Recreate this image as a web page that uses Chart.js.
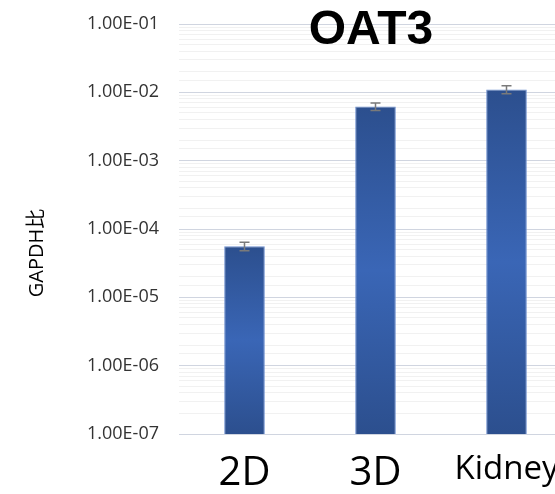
<!DOCTYPE html>
<html>
<head>
<meta charset="utf-8">
<script src="https://cdn.jsdelivr.net/npm/chart.js@4/dist/chart.umd.min.js"></script>
<style>
  html, body { margin: 0; padding: 0; background: #fff; overflow: hidden; }
  #wrap { width: 580px; height: 494px; }
</style>
</head>
<body>
<div id="wrap"><canvas id="oat3Chart" width="580" height="494"></canvas></div>
<script>
// sample groups and relative expression (ratio to GAPDH)
var groups = ['2D', '3D', 'Kidney'];
var expression = [5.6e-5, 6.2e-3, 1.1e-2];
var expressionErr = [0.8e-5, 0.8e-3, 1.5e-3];
var decadeTicks = [1e-7, 1e-6, 1e-5, 1e-4, 1e-3, 1e-2, 1e-1];
var decadeLabels = ['1.00E-07', '1.00E-06', '1.00E-05', '1.00E-04', '1.00E-03', '1.00E-02', '1.00E-01'];

function decadeIndex(v) {
    var e = Math.log10(v);
    if (Math.abs(e - Math.round(e)) > 1e-6) return -1;
    return decadeTicks.indexOf(Math.pow(10, Math.round(e))) >= 0 ?
        Math.round(e) - Math.round(Math.log10(decadeTicks[0])) : -1;
}

// dark at both ends, lighter through the middle of each bar
function barFill(ctx) {
    var chart = ctx.chart;
    var yScale = chart.scales.y;
    if (!chart.chartArea || !yScale || ctx.raw == null) return '#3360aa';
    var top = yScale.getPixelForValue(ctx.raw);
    var bottom = chart.chartArea.bottom;
    if (!isFinite(top) || bottom - top < 2) return '#3360aa';
    var g = chart.ctx.createLinearGradient(0, top, 0, bottom);
    g.addColorStop(0, '#2c4f8e');
    g.addColorStop(0.5, '#3a66b6');
    g.addColorStop(1, '#2c4f8e');
    return g;
}

var errorBars = {
    id: 'errorBars',
    afterDatasetsDraw: function(chart) {
        var ctx = chart.ctx;
        var meta = chart.getDatasetMeta(0);
        var y = chart.scales.y;
        ctx.save();
        ctx.strokeStyle = '#7a7a7a';
        ctx.lineWidth = 1.5;
        meta.data.forEach(function(bar, i) {
            var hi = y.getPixelForValue(expression[i] + expressionErr[i]);
            var lo = y.getPixelForValue(expression[i] - expressionErr[i]);
            ctx.beginPath();
            ctx.moveTo(bar.x, hi);
            ctx.lineTo(bar.x, lo);
            ctx.moveTo(bar.x - 5, hi);
            ctx.lineTo(bar.x + 5, hi);
            ctx.moveTo(bar.x - 5, lo);
            ctx.lineTo(bar.x + 5, lo);
            ctx.stroke();
        });
        ctx.restore();
    }
};

var labelsText = {
    id: 'labelsText',
    afterDraw: function(chart) {
        var ctx = chart.ctx;
        ctx.save();
        ctx.fillStyle = '#000';
        ctx.textAlign = 'center';
        ctx.textBaseline = 'middle';
        ctx.font = 'bold 48px "Liberation Sans", Arial, sans-serif';
        ctx.fillText('OAT3', 371, 31);
        ctx.translate(37, 253);
        ctx.rotate(-Math.PI / 2);
        ctx.font = '20px "Open Sans", "Noto Sans CJK JP", sans-serif';
        ctx.fillText('GAPDH比', 0, 0);
        ctx.restore();
    }
};

new Chart(document.getElementById('oat3Chart'), {
    type: 'bar',
    data: {
        labels: groups,
        datasets: [{
            data: expression,
            backgroundColor: barFill,
            borderColor: '#6d8fcf',
            borderWidth: 1,
            barPercentage: 0.31,
            categoryPercentage: 1
        }]
    },
    options: {
        responsive: false,
        animation: false,
        layout: { padding: { top: 24, right: 8, left: 0, bottom: 0 } },
        plugins: {
            legend: { display: false },
            tooltip: { enabled: false }
        },
        scales: {
            x: {
                grid: { display: false },
                border: { display: false },
                ticks: {
                    color: '#000',
                    padding: 8,
                    maxRotation: 0,
                    font: function(c) {
                        return { family: '"Open Sans", sans-serif', size: c.index === 2 ? 33 : 40 };
                    }
                },
                afterFit: function(s) { s.height = 60; }
            },
            y: {
                type: 'logarithmic',
                min: 1e-7,
                max: 1e-1,
                border: { display: false },
                grid: {
                    drawTicks: false,
                    lineWidth: 1,
                    color: function(c) {
                        return c.tick && decadeIndex(c.tick.value) >= 0 ? '#d0d5e0' : '#f1f1f1';
                    }
                },
                ticks: {
                    autoSkip: false,
                    padding: 20,
                    color: '#333',
                    font: { family: '"Open Sans", sans-serif', size: 18 },
                    callback: function(v) {
                        var k = decadeIndex(v);
                        return k >= 0 ? decadeLabels[k] : '';
                    }
                },
                afterFit: function(s) {
                    s.width = 179;
                    s.paddingTop = 0;
                    s.paddingBottom = 0;
                }
            }
        }
    },
    plugins: [errorBars, labelsText]
});
</script>
</body>
</html>
